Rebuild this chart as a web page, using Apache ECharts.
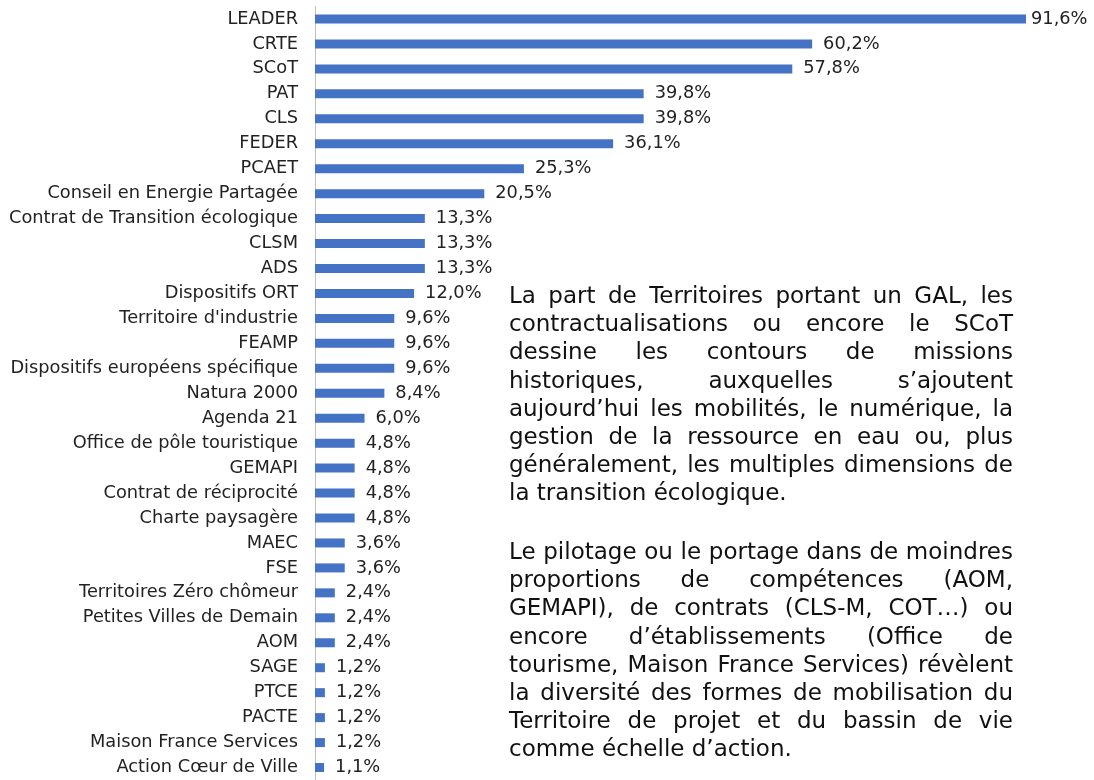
<!DOCTYPE html>
<html>
<head>
<meta charset="utf-8">
<script src="https://cdn.jsdelivr.net/npm/echarts@6/dist/echarts.min.js"></script>
<style>
  html, body { margin: 0; padding: 0; background: #fff; }
  #chart { width: 1094px; height: 780px; }
</style>
</head>
<body>
<div id="chart"></div>
<script>
  // categories, top to bottom
  var categories = ['LEADER', 'CRTE', 'SCoT', 'PAT', 'CLS', 'FEDER', 'PCAET',
      'Conseil en Energie Partagée', 'Contrat de Transition écologique', 'CLSM', 'ADS',
      'Dispositifs ORT', "Territoire d'industrie", 'FEAMP', 'Dispositifs européens spécifique',
      'Natura 2000', 'Agenda 21', 'Office de pôle touristique', 'GEMAPI', 'Contrat de réciprocité',
      'Charte paysagère', 'MAEC', 'FSE', 'Territoires Zéro chômeur', 'Petites Villes de Demain',
      'AOM', 'SAGE', 'PTCE', 'PACTE', 'Maison France Services', 'Action Cœur de Ville'];
  // part des territoires (%)
  var values = [91.6, 60.2, 57.8, 39.8, 39.8, 36.1, 25.3, 20.5, 13.3, 13.3, 13.3, 12.0, 9.6, 9.6,
      9.6, 8.4, 6.0, 4.8, 4.8, 4.8, 4.8, 3.6, 3.6, 2.4, 2.4, 2.4, 1.2, 1.2, 1.2, 1.2, 1.1];
  // the axis stops short of the LEADER bar in the original
  var axisMax = 86.1;

  var para1 = ['La part de Territoires portant un GAL, les',
      'contractualisations ou encore le SCoT',
      'dessine les contours de missions',
      'historiques, auxquelles s\u2019ajoutent',
      'aujourd\u2019hui les mobilités, le numérique, la',
      'gestion de la ressource en eau ou, plus',
      'généralement, les multiples dimensions de',
      'la transition écologique.'];
  var para2 = ['Le pilotage ou le portage dans de moindres',
      'proportions de compétences (AOM,',
      'GEMAPI), de contrats (CLS-M, COT\u2026) ou',
      'encore d\u2019établissements (Office de',
      'tourisme, Maison France Services) révèlent',
      'la diversité des formes de mobilisation du',
      'Territoire de projet et du bassin de vie',
      'comme échelle d\u2019action.'];

  var textFont = 'DejaVu Sans';
  var textSize = 23;
  var ctx = document.createElement('canvas').getContext('2d');
  ctx.font = textSize + 'px "' + textFont + '"';

  // justified text: one element per word, spread over the box width
  function justify(lines, left, width, top, lineH) {
      var out = [];
      lines.forEach(function(line, i) {
          var y = top + i * lineH;
          var words = line.split(' ');
          var last = i === lines.length - 1;
          if (last || words.length < 2) {
              out.push(word(line, left, y));
              return;
          }
          var total = 0;
          words.forEach(function(w) { total += ctx.measureText(w).width; });
          var gap = (width - total) / (words.length - 1);
          var x = left;
          words.forEach(function(w) {
              out.push(word(w, x, y));
              x += ctx.measureText(w).width + gap;
          });
      });
      return out;
  }
  function word(t, x, y) {
      return {
          type: 'text', x: x, y: y, silent: true,
          style: { text: t, fontFamily: textFont, fontSize: textSize, fill: '#111', verticalAlign: 'middle', align: 'left' }
      };
  }

  function fmt(v) {
      return v.toFixed(1).replace('.', ',') + '%';
  }

  var myChart = echarts.init(document.getElementById('chart'));
  var option = {
      animation: false,
      grid: {
          left: 315,
          width: 711,
          top: 6.5,
          height: 777
      },
      xAxis: {
          type: 'value',
          min: 0,
          max: axisMax,
          show: false
      },
      yAxis: {
          type: 'category',
          inverse: true,
          data: categories,
          axisLine: { lineStyle: { color: '#bfbfbf', width: 1 } },
          axisTick: { show: false },
          axisLabel: {
              margin: 17,
              color: '#222',
              fontFamily: 'DejaVu Sans',
              fontSize: 17.8
          }
      },
      series: [{
          type: 'bar',
          barWidth: 9,
          clip: true,
          itemStyle: { color: '#4472c4' },
          label: {
              show: true,
              position: 'right',
              distance: 11,
              color: '#222',
              fontFamily: 'DejaVu Sans',
              fontSize: 17.8,
              formatter: function(p) { return fmt(p.value); }
          },
          data: values.map(function(v) {
              if (v > axisMax) {
                  return { value: v, label: { distance: 5 } };
              }
              return v;
          })
      }],
      graphic: justify(para1, 509, 504, 297, 28.2).concat(justify(para2, 509, 504, 553, 28.2))
  };
  myChart.setOption(option);
</script>
</body>
</html>
